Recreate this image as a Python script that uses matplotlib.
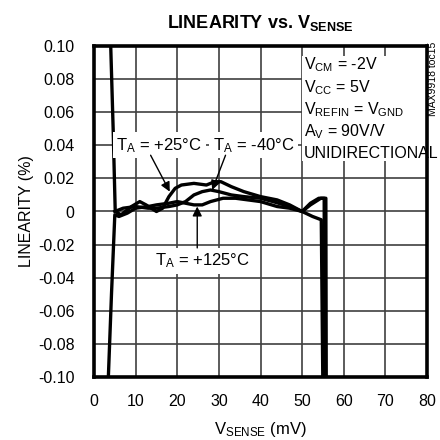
import matplotlib
matplotlib.use("Agg")
import matplotlib.pyplot as plt
from matplotlib import font_manager as fm
from matplotlib.patches import Rectangle

avail = {f.name for f in fm.fontManager.ttflist}
FAM = "Liberation Sans Narrow" if "Liberation Sans Narrow" in avail else "Liberation Sans"
plt.rcParams['font.family'] = [FAM, 'Liberation Sans', 'DejaVu Sans']
plt.rcParams['mathtext.fontset'] = 'custom'
plt.rcParams['mathtext.rm'] = FAM
plt.rcParams['mathtext.bf'] = FAM + ':bold'
plt.rcParams['mathtext.it'] = FAM

# ---- data ----
x_25 = [3.9, 4.6, 5.1, 6.5, 9, 11, 12.5, 15, 16.5, 18, 19.5, 21, 24, 27, 29, 30.5,
        33, 36, 40, 44, 47, 50, 52, 54, 55.3, 55.4]
y_25 = [0.11, 0.05, 0.0, -0.002, 0.003, 0.006, 0.004, 0.0, 0.002, 0.009, 0.014, 0.016,
        0.017, 0.016, 0.018, 0.018, 0.015, 0.012, 0.009, 0.007, 0.004, 0.0, 0.005,
        0.008, 0.008, -0.11]
x_m40 = [5.0, 7, 10, 13, 15, 18, 20, 22, 24, 26, 28, 30, 33, 36, 40, 43, 47, 50,
         52, 54.5, 55.7, 55.8]
y_m40 = [0.0, 0.002, 0.003, 0.002, 0.002, 0.003, 0.004, 0.006, 0.010, 0.012, 0.013,
         0.012, 0.010, 0.009, 0.008, 0.006, 0.003, 0.0, 0.004, 0.008, 0.008, -0.11]
x_125 = [3.3, 4.2, 5.0, 6, 8, 10, 13, 15, 18, 20, 22, 24, 26, 28, 31, 34, 37, 40,
         44, 47, 50, 52.5, 54.6, 55.0]
y_125 = [-0.11, -0.05, -0.002, -0.003, -0.001, 0.002, 0.003, 0.004, 0.005, 0.006,
         0.005, 0.004, 0.004, 0.006, 0.008, 0.008, 0.007, 0.006, 0.003, 0.002, 0.0,
         -0.003, -0.005, -0.11]

x_ticks = [0, 10, 20, 30, 40, 50, 60, 70, 80]
y_ticks = [0.10, 0.08, 0.06, 0.04, 0.02, 0.0, -0.02, -0.04, -0.06, -0.08, -0.10]
y_tick_labels = ["0.10", "0.08", "0.06", "0.04", "0.02", "0", "-0.02", "-0.04",
                 "-0.06", "-0.08", "-0.10"]

cond_lines = [r"V$_{\mathregular{CM}}$ = -2V",
              r"V$_{\mathregular{CC}}$ = 5V",
              r"V$_{\mathregular{REFIN}}$ = V$_{\mathregular{GND}}$",
              r"A$_{\mathregular{V}}$ = 90V/V",
              "UNIDIRECTIONAL"]

fig = plt.figure(figsize=(4.4, 4.4), dpi=100)
ax = fig.add_axes([94/440, 1 - 377/440, 333/440, 331/440])
ax.set_xlim(0, 80)
ax.set_ylim(-0.10, 0.10)
ax.set_xticks(x_ticks)
ax.set_yticks(y_ticks)
ax.set_yticklabels(y_tick_labels)
ax.grid(True, color='#404040', linewidth=1.2)
ax.set_axisbelow(True)
ax.tick_params(length=0, labelsize=11.5, pad=12)
ax.tick_params(axis='y', pad=14)
for s in ax.spines.values():
    s.set_linewidth(2.6)
    s.set_zorder(5)

for xs, ys in [(x_25, y_25), (x_m40, y_m40), (x_125, y_125)]:
    ax.plot(xs, ys, color='black', linewidth=2.4, solid_joinstyle='round', zorder=3)

ax.set_xlabel(r"V$_{\mathregular{SENSE}}$ (mV)", fontsize=12, labelpad=8)
ax.set_ylabel("LINEARITY (%)", fontsize=11.5, labelpad=3)
ax.set_title(r"LINEARITY vs. V$_{\mathbf{SENSE}}$", fontsize=13, fontweight='bold', pad=13)

# white background behind the condition block
ax.add_patch(Rectangle((49.9, 0.0305), 30.1, 0.0635, facecolor='white',
                       edgecolor='none', zorder=2))
ys_cond = [0.0887, 0.0747, 0.0614, 0.0483, 0.0350]
for txt, yy in zip(cond_lines, ys_cond):
    ax.text(50.4, yy, txt, fontsize=11.5, ha='left', va='center', zorder=4)

bb = dict(facecolor='white', edgecolor='none', pad=2.5)
ax.text(5.4, 0.040, r"T$_{\mathregular{A}}$ = +25°C", fontsize=12, ha='left', va='center', bbox=bb, zorder=4)
ax.text(28.5, 0.040, r"T$_{\mathregular{A}}$ = -40°C", fontsize=12, ha='left', va='center', bbox=bb, zorder=4)
ax.text(14.6, -0.030, r"T$_{\mathregular{A}}$ = +125°C", fontsize=12, ha='left', va='center', bbox=bb, zorder=4)

ap = dict(arrowstyle='-|>', color='black', lw=1.0, mutation_scale=14, shrinkA=0, shrinkB=0)
ax.annotate('', xy=(18.2, 0.012), xytext=(13.6, 0.034), arrowprops=ap, zorder=4)
ax.annotate('', xy=(28.4, 0.013), xytext=(31.6, 0.034), arrowprops=ap, zorder=4)
ax.annotate('', xy=(24.8, 0.003), xytext=(24.8, -0.022), arrowprops=ap, zorder=4)

fig.text(433/440, 1 - 79/440, "MAX9918 toc15", rotation=90, fontsize=7.5,
         ha='center', va='center', family='Liberation Sans')

fig.savefig("out.png", dpi=100)
